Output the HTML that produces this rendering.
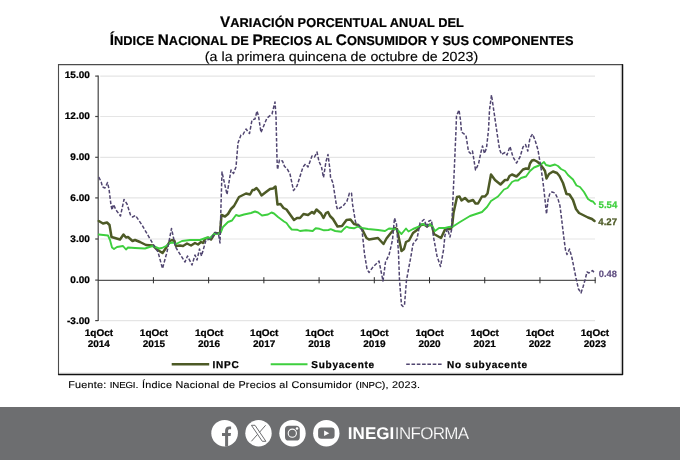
<!DOCTYPE html>
<html lang="es">
<head>
<meta charset="utf-8">
<title>Variación porcentual anual del INPC</title>
<style>
html,body{margin:0;padding:0;background:#fff;}
body{width:680px;height:460px;position:relative;overflow:hidden;font-family:"Liberation Sans",Arial,sans-serif;color:#000;text-rendering:geometricPrecision;}
svg text{text-rendering:geometricPrecision;}
.t{position:absolute;left:0;width:680px;text-align:center;white-space:nowrap;font-weight:bold;font-size:12.8px;line-height:16px;letter-spacing:0;-webkit-text-stroke:0.2px #000;}
.t b{font-size:15.3px;font-weight:bold;}
#t1{top:15px;left:2px;letter-spacing:0.05px;}
#t2{top:33.2px;left:1.6px;letter-spacing:0.06px;}
#t3{top:47.5px;left:1.5px;font-weight:normal;font-size:14.25px;line-height:18px;transform:scaleY(0.93);transform-origin:50% 14px;-webkit-text-stroke:0.15px #000;}
svg{position:absolute;left:0;top:0;}
#src{position:absolute;left:68.2px;top:378.1px;font-size:10.8px;line-height:14px;white-space:nowrap;color:#000;letter-spacing:0.245px;-webkit-text-stroke:0.14px #000;transform:scaleY(0.9);transform-origin:0 11px;}
#src span{font-size:9.7px;letter-spacing:-0.15px;}
#foot{position:absolute;left:0;top:407px;width:680px;height:53px;background:#6d6e70;}
#brand{position:absolute;left:347.8px;top:423.5px;font-size:17px;line-height:20px;color:#fff;white-space:nowrap;}
#brand b{font-weight:bold;letter-spacing:0.05px;}
#brand span{font-weight:normal;-webkit-text-stroke:0.2px #6d6e70;letter-spacing:-0.68px;margin-left:0.5px;}
</style>
</head>
<body>
<div class="t" id="t1"><b>V</b>ARIACIÓN PORCENTUAL ANUAL DEL</div>
<div class="t" id="t2"><b>Í</b>NDICE <b>N</b>ACIONAL DE <b>P</b>RECIOS AL <b>C</b>ONSUMIDOR Y SUS COMPONENTES</div>
<div class="t" id="t3">(a la primera quincena de octubre de 2023)</div>
<svg width="680" height="460" viewBox="0 0 680 460" font-family="'Liberation Sans',Arial,sans-serif">
<g fill="none">
<path d="M58.5 375V64.6H623" stroke="#4c4c4c" stroke-width="1.1"/>
<path d="M621 65.5V373H59.5" stroke="#d8d8d8" stroke-width="0.7"/>
<path d="M622.5 64.2V374.5H58.2" stroke="#111" stroke-width="1.5" stroke-linejoin="round"/>
</g>
<g stroke="#e5e5e5" stroke-width="1.2" fill="none"><line x1="100.2" x2="595" y1="76.10" y2="76.10"/><line x1="100.2" x2="595" y1="116.50" y2="116.50"/><line x1="100.2" x2="595" y1="157.30" y2="157.30"/><line x1="100.2" x2="595" y1="197.90" y2="197.90"/><line x1="100.2" x2="595" y1="239.00" y2="239.00"/><line x1="100.2" x2="595" y1="320.60" y2="320.60"/></g>
<g stroke="#444" stroke-width="1.2" fill="none">
<line x1="98.2" x2="98.2" y1="75.60" y2="321.10"/>
<line x1="95.2" x2="98.2" y1="76.10" y2="76.10"/><line x1="95.2" x2="98.2" y1="116.50" y2="116.50"/><line x1="95.2" x2="98.2" y1="157.30" y2="157.30"/><line x1="95.2" x2="98.2" y1="197.90" y2="197.90"/><line x1="95.2" x2="98.2" y1="239.00" y2="239.00"/><line x1="95.2" x2="98.2" y1="280.10" y2="280.10"/><line x1="95.2" x2="98.2" y1="320.60" y2="320.60"/>
</g>
<g stroke="#2c2c2c" stroke-width="1" fill="none">
<line x1="98.2" x2="595.6" y1="280.3" y2="280.3"/>
<line x1="153.42" x2="153.42" y1="277.2" y2="283.3"/><line x1="208.64" x2="208.64" y1="277.2" y2="283.3"/><line x1="263.86" x2="263.86" y1="277.2" y2="283.3"/><line x1="319.08" x2="319.08" y1="277.2" y2="283.3"/><line x1="374.30" x2="374.30" y1="277.2" y2="283.3"/><line x1="429.52" x2="429.52" y1="277.2" y2="283.3"/><line x1="484.74" x2="484.74" y1="277.2" y2="283.3"/><line x1="539.96" x2="539.96" y1="277.2" y2="283.3"/><line x1="595.18" x2="595.18" y1="277.2" y2="283.3"/>
</g>
<polyline fill="none" stroke="#4d5a26" stroke-width="2.5" stroke-linejoin="round" stroke-linecap="round" points="98.8,221 103,223.5 107,222.5 109.5,225 111.5,237 120,239.5 123.5,234.5 126,237.5 128,237 132.5,241 135,240 140,242 146,245 153,245.5 157,249.5 162.5,253 166,248 170,241 172,240 174.5,241 176,246 180,245.5 183,246 187,243.5 191,245.5 195,243 198,244.5 201,242 203,243 205,239 208,237.5 211,239.5 215,233 220,233.5 221.5,215 225,216.5 228,214 231,209 234,206 239,197 242,195.5 246,193.5 250,194.5 252.5,190 254,190 256.5,188 259,191 261.5,195.5 266,192 270,189 273,188.5 275.5,186.5 277.5,204.5 280.5,204 283.5,208 286.5,209.5 294,220 297,218 300,218 303.5,214 308,215 312,212 314,213.5 316.5,209.5 321,213.5 323.5,218 326,213 328,212 330,216 333,219 337.5,226.5 342,226 346.5,220 350.5,219.5 354,224 358,225 362,229 366.5,238 369,239.5 378,238 383.5,244 386.5,238.5 390,234 395,228 397,229 401.5,251 404,249 406,242 409,240.5 413,233 417,230 421,225 424,224.5 427,226.5 430,224.5 432,226 434,234 441,238 445,229.5 450,229 452,227 453.5,213 457,197 459.5,196.5 461.5,200.5 465,198 468.5,201.5 473,200 475.5,203.5 478,203.5 482,196.5 485,196.5 487.5,193.5 491,174.5 495,180 500.5,184.5 505,180 507.5,180 509.5,176 512,174.5 516.5,176.5 519,174 523,169.5 526,168.5 528.5,169 530,163.5 532,160.5 534,160 537,161.5 539.5,163.5 543,168 545,171 546.5,178.5 549,174 553,171.5 557,173 559.5,176 563,183 566.5,194 569.5,194.5 573,200 576,209 579,213 583,215 588,217.5 592,219 594.5,221"/>
<polyline fill="none" stroke="#3ecf3e" stroke-width="1.9" stroke-linejoin="round" stroke-linecap="round" points="98.8,234.5 108,235.5 110,240 112,247.5 114,249 117,247 123,246 126,249.5 128,247.5 135,248 145,248.5 151,246.5 153,246 159,248.5 162,248 166,246 170,243 173,242.5 176,244 182,241 190,240 200,240 207,237.5 210,238 214,234 219,233.5 221,232 223,227 228,222 232,220.5 236,215 239,216 244,214.5 251,213 255,211.5 258,212.5 262,215.5 268,214.5 271.5,212.5 274,213.5 278,217 284,221.5 286.5,223 289,226.5 291.7,229.5 297,229.7 300,231 306,230.3 312.7,231 315.7,228.3 319.5,228.8 324,230.3 328.5,230 330.7,229.2 335.2,231 341.2,231.8 344.2,228.7 346.5,226.6 349.5,227.8 354,228.3 358,226.5 362,228 368,229 378,230 385,231 389,228.5 395,229 398,230.5 401.5,234 406,228.5 408.5,231.5 413,229 418,227 422,224 425,225 428,225.5 431,224.5 433,227.5 435,231 439,228 445,228 449,227 453,226.5 460,222 470,216 476,214 482,212 487,207 491,201 498,196.5 504,189.5 507.5,188 512,182 515,180.5 518,180.5 521,178 526,176.5 530,171 534,167.5 539,165.5 541.5,164 544,162 546,165 550,166 555,164.5 558,166 561,169 565,171 568,175 573,179.5 576.5,185.5 580,187 584,192 588,199 591,201 593,201.5 595,204"/>
<polyline fill="none" stroke="#504570" stroke-width="1.5" stroke-dasharray="3.6 1.8" stroke-linejoin="round" points="98.8,177 101.2,182 102.5,187 105,188 107.5,182.5 109,189 111,205 112,210 113.5,204.5 116,210 120.5,216 124,199.5 127,204 130.5,215 132.5,217 135.5,215.5 142,225 153,244 158,252 162.5,268.5 167,252 171.5,228.5 175.5,247 185,262 187.5,256 192,265 195,255 197,260 199.5,249 201.5,256 206,240 211,239 215,232.5 218.5,234 220,243 221,205 222,172 227,194.5 231,170 233.5,173.5 236,167 238,143 241,135 243,134.5 246,129 249.5,133.5 252,120 255,119 257,111 258.5,116 261,132.5 267,118 272,114 275,102 276,116 277,159 277.5,169.5 279.5,160 282.5,161 284.5,166.5 287,168.5 290,174 293.5,190.5 297,186 303,167 305.5,164 308,167 312,156 314.5,157 317,152 319,161.5 321.5,167 323.5,177.5 326,161.5 328,154.5 330,170 330.5,177 333,183 336.5,206 337.5,209.5 343,206 347,201 349.5,193 351.5,193 352.5,204 355.5,222 359,225.5 362,230 364.5,254 367,269 369,272.5 373,267 379,261 381,271 383,281 385.5,262 389,255 392.5,240 394.5,218 396.5,224 398.5,253 399.5,280 401.5,305 403,306.5 404.5,305 406.5,280 411,256 413,244 417,239 420,223 424,219.5 427,227 429,221 431.5,220 433.5,237 437,256 440.5,266.5 443.5,250 445,235 447.5,229 450,237 451.5,230 454,176 456,130 456.5,116 459,110 460.5,120 461.5,132 466,135.5 468.5,151.5 470.5,153.5 472.5,151 475.5,170 478.5,164 481,152 482.5,146 484.5,153.5 486.5,148 488.5,130 489.5,110 491.5,95 494,112 497.5,136 499.5,149 501.5,154.5 505,152.5 507,155 510,146.5 513,157 516.5,163 520,157 523,147 525.5,144.5 527.8,151 530,138 532.5,134 535,140 538,150 539.5,159 541,168 543,182 544.5,195 546.5,214 548,200 550,193 552,192 555,193 558,199 560,206 561.5,218 564,239 565.5,250 567,254.5 569.5,249 572,258 576,278 578.5,289 581,293 583,287 585,280 587,272 589,273 592.5,270.5 595,273.5"/>
<g font-size="10" font-weight="bold" fill="#000" stroke="#000" stroke-width="0.25"><text transform="translate(89.80 77.70) scale(1 0.96)" text-anchor="end">15.00</text><text transform="translate(89.80 118.67) scale(1 0.96)" text-anchor="end">12.00</text><text transform="translate(89.80 159.64) scale(1 0.96)" text-anchor="end">9.00</text><text transform="translate(89.80 200.60) scale(1 0.96)" text-anchor="end">6.00</text><text transform="translate(89.80 241.57) scale(1 0.96)" text-anchor="end">3.00</text><text transform="translate(89.80 282.54) scale(1 0.96)" text-anchor="end">0.00</text><text transform="translate(89.80 323.51) scale(1 0.96)" text-anchor="end">-3.00</text><text transform="translate(98.90 335.70) scale(1 0.96)" text-anchor="middle">1qOct</text><text transform="translate(98.80 346.80) scale(1 0.96)" text-anchor="middle">2014</text><text transform="translate(154.02 335.70) scale(1 0.96)" text-anchor="middle">1qOct</text><text transform="translate(153.92 346.80) scale(1 0.96)" text-anchor="middle">2015</text><text transform="translate(209.14 335.70) scale(1 0.96)" text-anchor="middle">1qOct</text><text transform="translate(209.04 346.80) scale(1 0.96)" text-anchor="middle">2016</text><text transform="translate(264.26 335.70) scale(1 0.96)" text-anchor="middle">1qOct</text><text transform="translate(264.16 346.80) scale(1 0.96)" text-anchor="middle">2017</text><text transform="translate(319.38 335.70) scale(1 0.96)" text-anchor="middle">1qOct</text><text transform="translate(319.28 346.80) scale(1 0.96)" text-anchor="middle">2018</text><text transform="translate(374.50 335.70) scale(1 0.96)" text-anchor="middle">1qOct</text><text transform="translate(374.40 346.80) scale(1 0.96)" text-anchor="middle">2019</text><text transform="translate(429.62 335.70) scale(1 0.96)" text-anchor="middle">1qOct</text><text transform="translate(429.52 346.80) scale(1 0.96)" text-anchor="middle">2020</text><text transform="translate(484.74 335.70) scale(1 0.96)" text-anchor="middle">1qOct</text><text transform="translate(484.64 346.80) scale(1 0.96)" text-anchor="middle">2021</text><text transform="translate(539.86 335.70) scale(1 0.96)" text-anchor="middle">1qOct</text><text transform="translate(539.76 346.80) scale(1 0.96)" text-anchor="middle">2022</text><text transform="translate(594.98 335.70) scale(1 0.96)" text-anchor="middle">1qOct</text><text transform="translate(594.88 346.80) scale(1 0.96)" text-anchor="middle">2023</text></g>
<g font-size="9.3" font-weight="bold">
<text transform="translate(598.60 208.00) scale(1 1.0)" text-anchor="start" font-size="9.6" fill="#3ecf3e" stroke="#3ecf3e" stroke-width="0.25">5.54</text>
<text transform="translate(598.30 225.10) scale(1 1.0)" text-anchor="start" font-size="9.6" fill="#4d5a26" stroke="#4d5a26" stroke-width="0.25">4.27</text>
<text transform="translate(598.80 277.20) scale(1 1.0)" text-anchor="start" fill="#5f4d80" stroke="#5f4d80" stroke-width="0.15">0.48</text>
</g>
<line x1="171.7" x2="209.2" y1="364.3" y2="364.3" stroke="#4d5a26" stroke-width="2.5"/>
<line x1="270.7" x2="307.5" y1="364.3" y2="364.3" stroke="#3ecf3e" stroke-width="1.9"/>
<line x1="406.2" x2="443" y1="364.3" y2="364.3" stroke="#504570" stroke-width="1.5" stroke-dasharray="3.6 1.7"/>
<g font-size="10" font-weight="bold" fill="#000" stroke="#000" stroke-width="0.25" letter-spacing="0.75">
<text transform="translate(212.50 367.60) scale(1 1.0)" text-anchor="start">INPC</text>
<text transform="translate(311.30 367.60) scale(1 1.0)" text-anchor="start">Subyacente</text>
<text transform="translate(447.00 367.60) scale(1 1.0)" text-anchor="start">No subyacente</text>
</g>
</svg>
<div id="src">Fuente: <span>INEGI</span>. Índice Nacional de Precios al Consumidor (<span>INPC</span>), 2023.</div>
<div id="foot"></div>
<svg width="680" height="460" viewBox="0 0 680 460">
<g fill="#fff">
<circle cx="224.6" cy="433.2" r="13.3"/>
<circle cx="258.5" cy="433.2" r="13.2"/>
<circle cx="292.5" cy="433.2" r="13.2"/>
<circle cx="326.3" cy="433.2" r="13.2"/>
</g>
<!-- facebook f -->
<path fill="#6d6e70" d="M225.1 446.5V435.9H222V433H225.1V430.6C225.1 427.9 226.8 426.4 229.2 426.4C229.9 426.4 230.6 426.5 231.1 426.6V429.2H229.8C228.6 429.2 228.1 429.8 228.1 430.8V433H231L230.6 435.9H228.1V446.4Z"/>
<!-- X -->
<g fill="none" stroke="#6d6e70" stroke-width="1" stroke-linejoin="miter">
<path d="M251.4 425.3h3.6l10.9 16h-3.6z"/>
<path d="M265.6 425.3l-6.3 7.2M257.6 434.3l-6.2 7"/>
</g>
<!-- instagram -->
<rect x="285" y="425.7" width="14.8" height="14.8" rx="3.6" fill="#6d6e70"/>
<circle cx="292.3" cy="433.2" r="4.1" fill="none" stroke="#fff" stroke-width="1.1"/>
<circle cx="297" cy="428.6" r="1.25" fill="#fff"/>
<!-- youtube -->
<rect x="318.1" y="427.6" width="16.5" height="11.2" rx="3.2" fill="#6d6e70"/>
<path d="M324.1 430.4l5.2 2.8l-5.2 2.8z" fill="#fff"/>
</svg>
<div id="brand"><b>INEGI</b><span>INFORMA</span></div>
</body>
</html>
